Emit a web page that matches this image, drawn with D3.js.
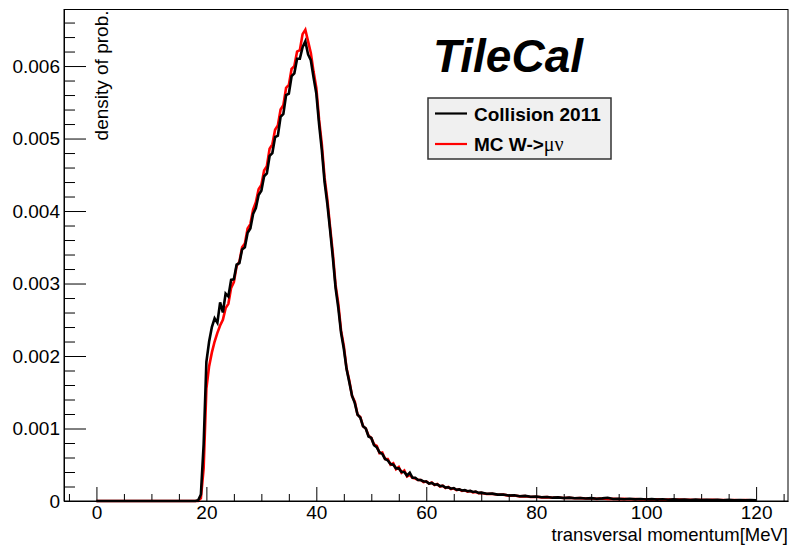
<!DOCTYPE html>
<html>
<head>
<meta charset="utf-8">
<script src="https://d3js.org/d3.v7.min.js"></script>
<style>
  body { margin: 0; background: #fff; }
  text { font-family: "Liberation Sans", Arial, Helvetica, sans-serif; }
</style>
</head>
<body>
<svg id="drawing_region"></svg>
<script>
// bin centres, transversal momentum [MeV]
const momentum = [
    0, 5, 10, 15, 17,
    18, 18.5, 19, 19.5, 20, 20.5, 21, 21.5, 22, 22.5,
    23, 23.5, 24, 24.5, 25, 25.5, 26, 26.5, 27, 27.5,
    28, 28.5, 29, 29.5, 30, 30.5, 31, 31.5, 32, 32.5,
    33, 33.5, 34, 34.5, 35, 35.5, 36, 36.5, 37, 37.5,
    38, 38.5, 39, 39.5, 40, 40.5, 41, 41.5, 42, 42.5,
    43, 43.5, 44, 44.5, 45, 45.5, 46, 46.5, 47, 47.5,
    48, 48.5, 49, 49.5, 50, 50.5, 51, 51.5, 52, 52.5,
    53, 53.5, 54, 54.5, 55, 55.5, 56, 56.5, 57, 57.5,
    58, 58.5, 59, 59.5, 60, 60.5, 61, 61.5, 62, 62.5,
    63, 63.5, 64, 64.5, 65, 65.5, 66, 66.5, 67, 67.5,
    68, 68.5, 69, 69.5, 70,
    71, 72, 73, 74, 75, 76, 77, 78, 79, 80,
    81, 82, 83, 84, 85, 86, 87, 88, 89, 90,
    91, 92, 93, 94, 95, 96, 97, 98, 99, 100,
    101, 102, 103, 104, 105, 106, 107, 108, 109, 110,
    111, 112, 113, 114, 115, 116, 117, 118, 119, 120
];

// density of prob., in units of 0.001
const collision2011 = [
    0, 0, 0, 0, 0,
    0, 0.01, 0.09, 0.78, 1.92, 2.2, 2.4, 2.52, 2.46, 2.74,
    2.6, 2.86, 2.82, 3.05, 3.06, 3.26, 3.28, 3.47, 3.5, 3.7,
    3.76, 3.96, 4.04, 4.22, 4.28, 4.48, 4.52, 4.76, 4.8, 5.02,
    5.04, 5.3, 5.34, 5.6, 5.62, 5.86, 5.9, 6.1, 6.1, 6.26,
    6.34, 6.16, 6.08, 5.84, 5.62, 5.2, 4.84, 4.4, 4.1, 3.74,
    3.36, 2.94, 2.66, 2.32, 2.1, 1.82, 1.64, 1.45, 1.35, 1.19,
    1.15, 1.03, 1.0, 0.89, 0.87, 0.77, 0.74, 0.67, 0.65, 0.58,
    0.56, 0.51, 0.5, 0.45, 0.45, 0.4, 0.4, 0.35, 0.39, 0.32,
    0.32, 0.29, 0.29, 0.27, 0.27, 0.24, 0.25, 0.225, 0.23, 0.205,
    0.21, 0.185, 0.19, 0.17, 0.178, 0.155, 0.16, 0.145, 0.15, 0.135,
    0.14, 0.125, 0.13, 0.112, 0.115,
    0.1, 0.102, 0.088, 0.09, 0.076, 0.079, 0.066, 0.07, 0.058, 0.062,
    0.052, 0.056, 0.046, 0.05, 0.042, 0.046, 0.038, 0.042, 0.034, 0.039,
    0.031, 0.036, 0.045, 0.028, 0.032, 0.025, 0.03, 0.023, 0.028, 0.021,
    0.026, 0.019, 0.024, 0.017, 0.022, 0.016, 0.02, 0.014, 0.019, 0.013,
    0.017, 0.012, 0.016, 0.011, 0.015, 0.01, 0.014, 0.009, 0.012, 0.008
];

const mcWmunu = [
    0, 0, 0, 0, 0,
    0, 0, 0.04, 0.45, 1.55, 1.86, 2.05, 2.2, 2.32, 2.42,
    2.5, 2.66, 2.72, 2.94, 3.02, 3.24, 3.3, 3.5, 3.55, 3.76,
    3.82, 4.02, 4.12, 4.3, 4.36, 4.56, 4.62, 4.86, 4.92, 5.12,
    5.18, 5.4, 5.46, 5.7, 5.74, 5.96, 6.0, 6.2, 6.22, 6.44,
    6.5, 6.34, 6.18, 5.92, 5.7, 5.26, 4.92, 4.46, 4.16, 3.78,
    3.42, 2.98, 2.72, 2.35, 2.14, 1.83, 1.66, 1.45, 1.37, 1.19,
    1.16, 1.03, 1.0, 0.9, 0.87, 0.78, 0.76, 0.66, 0.67, 0.58,
    0.58, 0.5, 0.52, 0.44, 0.47, 0.39, 0.42, 0.34, 0.36, 0.32,
    0.31, 0.29, 0.29, 0.26, 0.27, 0.24, 0.255, 0.22, 0.235, 0.2,
    0.21, 0.18, 0.195, 0.165, 0.175, 0.15, 0.16, 0.14, 0.148, 0.13,
    0.138, 0.12, 0.125, 0.108, 0.112,
    0.096, 0.099, 0.086, 0.088, 0.074, 0.076, 0.064, 0.067, 0.056, 0.059,
    0.05, 0.053, 0.045, 0.048, 0.041, 0.044, 0.037, 0.04, 0.034, 0.037,
    0.03, 0.034, 0.028, 0.031, 0.026, 0.029, 0.024, 0.027, 0.022, 0.025,
    0.02, 0.023, 0.018, 0.021, 0.017, 0.02, 0.015, 0.018, 0.014, 0.016,
    0.013, 0.015, 0.012, 0.014, 0.011, 0.013, 0.01, 0.012, 0.009, 0.01
];

const xMajorTicks = [0, 20, 40, 60, 80, 100, 120];
const xMinorTicks = [-5, 5, 10, 15, 25, 30, 35, 45, 50, 55, 65, 70, 75, 85, 90, 95, 105, 110, 115, 125];
const yMajorTicks = [0, 1, 2, 3, 4, 5, 6];
const yTickLabels = ["0", "0.001", "0.002", "0.003", "0.004", "0.005", "0.006"];
const yMinorTicks = d3.range(0.2, 6.7, 0.2).filter(v => Math.abs(v - Math.round(v)) > 0.05);

const series = [
    { name: "MC W->", greek: "\u03bc\u03bd", color: "#ff0000", values: mcWmunu },
    { name: "Collision 2011", greek: "", color: "#000000", values: collision2011 }
];

const config = {
    width: 791,
    height: 545,
    frame: { left: 64, right: 788, top: 9.5, bottom: 501 }
};

const svg = d3.select('#drawing_region')
    .attr('width', config.width)
    .attr('height', config.height);

const f = config.frame;

const xscale = d3.scaleLinear()
    .domain([-5.9, 125.8])
    .range([f.left, f.right]);

const yscale = d3.scaleLinear()
    .domain([0, 6.78])
    .range([f.bottom, f.top]);

// frame
svg.append('rect')
    .attr('x', f.left)
    .attr('y', f.top)
    .attr('width', f.right - f.left)
    .attr('height', f.bottom - f.top)
    .attr('fill', 'none')
    .attr('stroke', '#000')
    .attr('stroke-width', 1);

// histograms (MC first, data on top)
const line = d3.line()
    .x((d, i) => xscale(momentum[i]))
    .y(d => yscale(d));

series.forEach(s => {
    svg.append('path')
        .datum(s.values)
        .attr('d', line)
        .attr('fill', 'none')
        .attr('stroke', s.color)
        .attr('stroke-width', 2.6)
        .attr('stroke-linejoin', 'miter');
});

// x axis
svg.append('g')
    .attr('transform', `translate(0, ${f.bottom})`)
    .call(d3.axisBottom(xscale).tickValues(xMinorTicks).tickSize(-7).tickSizeOuter(0).tickFormat(''))
    .call(g => g.select('.domain').remove());

const xaxis_group = svg.append('g')
    .attr('transform', `translate(0, ${f.bottom})`)
    .call(d3.axisBottom(xscale).tickValues(xMajorTicks).tickSize(-14).tickSizeOuter(0).tickPadding(5));

// y axis
svg.append('g')
    .attr('transform', `translate(${f.left}, 0)`)
    .call(d3.axisLeft(yscale).tickValues(yMinorTicks).tickSize(-11).tickSizeOuter(0).tickFormat(''))
    .call(g => g.select('.domain').remove());

const yaxis_group = svg.append('g')
    .attr('transform', `translate(${f.left}, 0)`)
    .call(d3.axisLeft(yscale).tickValues(yMajorTicks).tickSize(-22).tickSizeOuter(0).tickPadding(4)
        .tickFormat((d, i) => yTickLabels[i]));

svg.selectAll('.tick line').attr('stroke', '#000').attr('stroke-width', 1);
svg.selectAll('.domain').attr('stroke', '#000');
[xaxis_group, yaxis_group].forEach(g => {
    g.attr('font-family', null).attr('font-size', null);
    g.selectAll('text')
        .attr('fill', '#000')
        .style('font-size', '19px');
});

// axis titles
svg.append('text')
    .attr('x', 788)
    .attr('y', 541)
    .attr('text-anchor', 'end')
    .style('font-size', '18.5px')
    .text('transversal momentum[MeV]');

svg.append('text')
    .attr('transform', `translate(108, ${f.top + 1}) rotate(-90)`)
    .attr('text-anchor', 'end')
    .style('font-size', '19px')
    .text('density of prob.');

// title
svg.append('text')
    .attr('x', 433)
    .attr('y', 72)
    .style('font-size', '46px')
    .style('font-weight', 'bold')
    .style('font-style', 'italic')
    .text('TileCal');

// legend
const legend = svg.append('g');
legend.append('rect')
    .attr('x', 428)
    .attr('y', 98)
    .attr('width', 183)
    .attr('height', 61)
    .attr('fill', '#f0f0f0')
    .attr('stroke', '#333')
    .attr('stroke-width', 1.5);

const legendItems = [series[1], series[0]];
legendItems.forEach((s, i) => {
    const ly = 113.5 + i * 30.5;
    legend.append('line')
        .attr('x1', 435).attr('x2', 467)
        .attr('y1', ly).attr('y2', ly)
        .attr('stroke', s.color)
        .attr('stroke-width', 2.2);
    const t = legend.append('text')
        .attr('x', 474)
        .attr('y', ly + 7)
        .style('font-size', '19px')
        .style('font-weight', 'bold')
        .text(s.name);
    if (s.greek) {
        t.append('tspan')
            .style('font-family', '"Liberation Serif", "Times New Roman", serif')
            .style('font-weight', 'normal')
            .style('font-size', '20px')
            .text(s.greek);
    }
});
</script>
</body>
</html>
